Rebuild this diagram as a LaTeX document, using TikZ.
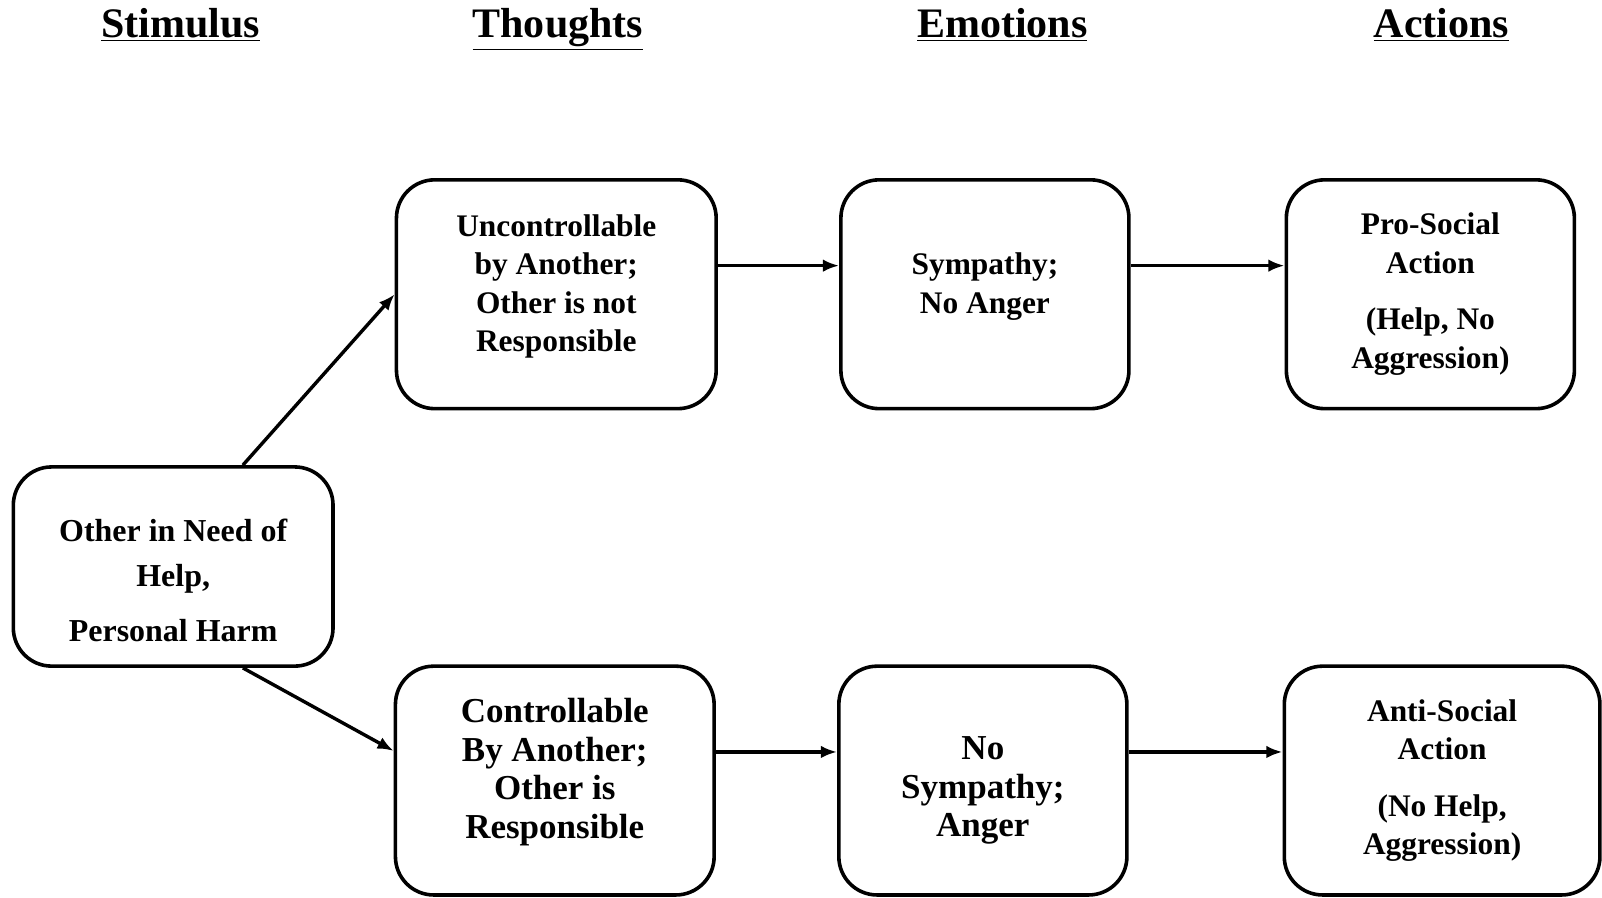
\documentclass[tikz,border=0pt]{standalone}
\usepackage{fontspec}
\setmainfont{Liberation Serif}
\usetikzlibrary{arrows.meta,calc,positioning}

\begin{document}
\begin{tikzpicture}[x=0.02cm,y=0.02cm,>=Latex,
    box/.style={draw,line width=2pt,rounded corners=0.75cm,align=center,inner sep=0pt,
      font=\fontsize{17.5}{21.5}\selectfont\bfseries},
    wide/.style={box,minimum width=6.26cm,minimum height=4.48cm},
    narrow/.style={box,minimum width=5.64cm,minimum height=4.48cm},
    bigtext/.style={font=\fontsize{19.5}{21.5}\selectfont\bfseries},
    link/.style={-{Latex[length=9pt,width=7pt]},line width=1.9pt}]
  \useasboundingbox (0,0) rectangle (1568,-878);

  % column heads
  \foreach \x/\name in {177/Stimulus,546/Thoughts,981/Emotions,1411/Actions}
    \node[font=\fontsize{23.4}{28}\selectfont\bfseries,anchor=base,inner sep=0pt] (head-\name) at (\x,-37) {\underline{\name}};

  \node[box,minimum width=6.26cm,minimum height=3.9cm,font=\fontsize{17.8}{25}\selectfont\bfseries] (stim) at (169.5,-554.5)
    {\rule{0pt}{28pt}Other in Need of\\ Help,\\[6pt] Personal Harm};

  \node[wide] (th1) at (544.5,-288) {Uncontrollable\\ by Another;\\ Other is not\\ Responsible\\[-9pt]};
  \node[narrow] (em1) at (964,-288) {Sympathy;\\ No Anger\\[-9pt]};
  \node[narrow] (ac1) at (1400,-288) {Pro-Social\\ Action\\[10pt] (Help, No\\ Aggression)};

  \node[wide,minimum width=6.24cm,bigtext] (th2) at (543,-764) {Controllable\\ By Another;\\ Other is\\ Responsible\\[-8pt]};
  \node[narrow,bigtext] (em2) at (962,-764) {\rule{0pt}{24pt}No\\ Sympathy;\\ Anger};
  \node[box,minimum width=6.18cm,minimum height=4.48cm] (ac2) at (1411.5,-764) {Anti-Social\\ Action\\[10pt] (No Help,\\ Aggression)};

  \draw[link] ($(stim.north east)+(-90,0)$) -- (th1.west);
  \draw[link] ($(stim.south east)+(-90,0)$) -- ($(th2.west)+(0,29)$);
  \foreach \a/\b in {th1/em1,em1/ac1,th2/em2,em2/ac2}
    \draw[link] ($(\a.east)+(0,28)$) -- ($(\b.west)+(0,28)$);
\end{tikzpicture}
\end{document}
